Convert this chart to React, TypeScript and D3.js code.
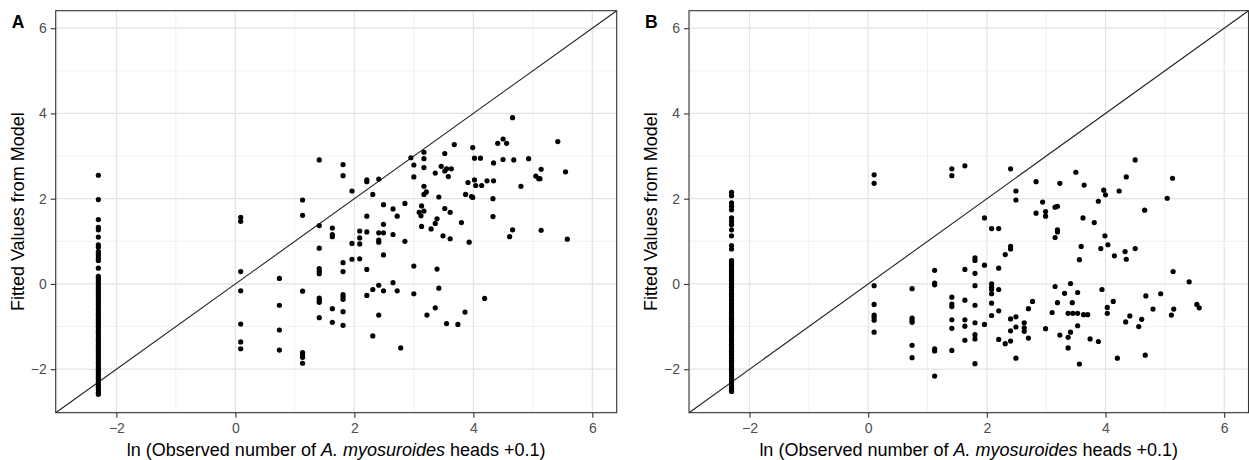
import { useEffect, useRef } from "react";
import * as d3 from "d3";

// shared axis setup (both panels use the same limits on x and y)
const axisLimits: [number, number] = [-3.02, 6.41];
const majorTicks = [-2, 0, 2, 4, 6];
const minorTicks = [-3, -1, 1, 3, 5];
const zeroCountX = -2.303; // ln(0 + 0.1)

// Panel A: fitted values for plots with no heads observed
const panelAZeroY = [
  2.55, 1.98, 1.51, 1.33, 1.27, 1.1, 0.92, 0.86, 0.76, 0.71, 0.66, 0.6, 0.55, 0.37,
  0.18, 0.14, 0.09, 0.04, -0.02, -0.07, -0.12, -0.17, -0.23, -0.28, -0.33, -0.39,
  -0.44, -0.49, -0.55, -0.6, -0.66, -0.71, -0.76, -0.82, -0.87, -0.92, -0.98, -1.03,
  -1.09, -1.14, -1.19, -1.25, -1.3, -1.35, -1.41, -1.46, -1.52, -1.57, -1.62, -1.68,
  -1.73, -1.78, -1.84, -1.89, -1.95, -2.0, -2.05, -2.11, -2.16, -2.21, -2.27, -2.32,
  -2.38, -2.43, -2.48, -2.54, -2.59,
];

const panelAPoints: [number, number][] = [
  [0.09, 1.56], [0.09, 1.47], [0.09, 0.29], [0.09, -0.16], [0.09, -0.94], [0.09, -1.36], [0.09, -1.52],
  [0.74, 0.13], [0.74, -0.5], [0.74, -1.08], [0.74, -1.55],
  [1.13, 1.97], [1.13, 1.61], [1.13, -0.17], [1.13, -1.61], [1.13, -1.66], [1.13, -1.72], [1.13, -1.86],
  [1.41, 2.91], [1.41, 1.37], [1.41, 0.84], [1.41, 0.36], [1.41, 0.3], [1.41, 0.24], [1.41, -0.33],
  [1.41, -0.38], [1.41, -0.43], [1.41, -0.79],
  [1.63, 1.31], [1.63, 1.16], [1.63, 1.11], [1.63, -0.58], [1.63, -0.9],
  [1.81, 2.8], [1.81, 2.54], [1.81, 0.5], [1.81, 0.29], [1.81, -0.25], [1.81, -0.3], [1.81, -0.36],
  [1.81, -0.65], [1.81, -0.97],
  [1.96, 2.18], [1.96, 0.95], [1.96, 0.58],
  [2.09, 1.24], [2.09, 1.08], [2.09, 0.94], [2.09, 0.59],
  [2.21, 2.44], [2.21, 2.4], [2.21, 1.59], [2.21, 1.22], [2.21, 0.34], [2.21, -0.27],
  [2.31, 2.1], [2.31, -0.13], [2.31, -1.22],
  [2.41, 2.46], [2.41, 1.2], [2.41, 1.03], [2.41, 0.98], [2.41, -0.03], [2.41, -0.73],
  [2.49, 1.86], [2.49, 1.4], [2.49, 1.2], [2.49, 0.68], [2.49, -0.16],
  [2.65, 1.76], [2.65, 1.16], [2.65, 0.03],
  [2.72, 1.59], [2.72, -0.16], [2.78, -1.5], [2.85, 1.89], [2.85, 1.0], [2.95, 2.96],
  [3.0, 2.79], [3.0, 2.51], [3.0, 0.42], [3.0, -0.23],
  [4.66, 3.9], [3.68, 3.27], [3.17, 3.09], [3.17, 2.94], [3.17, 2.73], [3.52, 3.06], [3.99, 3.2],
  [4.02, 2.95], [4.12, 2.95], [4.41, 3.3], [4.5, 3.4], [4.56, 3.3], [4.34, 2.84], [4.5, 2.92],
  [4.68, 2.91], [4.93, 2.94], [5.42, 3.34], [3.46, 2.76], [3.36, 2.6], [3.52, 2.65], [3.55, 2.7],
  [3.63, 2.7], [3.58, 2.52], [3.17, 2.29], [3.21, 2.16], [3.17, 2.1], [3.42, 2.04], [3.91, 2.38],
  [4.02, 2.44], [4.04, 2.31], [4.14, 2.31], [4.23, 2.42], [4.34, 2.42], [3.87, 2.1], [3.97, 2.05],
  [3.99, 2.03], [4.33, 2.0], [4.8, 2.29], [5.05, 2.53], [5.1, 2.47], [5.12, 2.47], [5.14, 2.69],
  [5.55, 2.63], [3.13, 1.83], [3.09, 1.68], [3.12, 1.6], [3.17, 1.71], [3.52, 1.77], [3.61, 1.68],
  [3.39, 1.53], [3.36, 1.42], [3.29, 1.29], [3.13, 1.35], [3.8, 1.44], [4.33, 1.58], [3.49, 1.13],
  [3.61, 1.06], [3.93, 0.98], [4.61, 1.11], [4.66, 1.27], [5.14, 1.26], [5.58, 1.05], [3.39, 0.35],
  [3.42, -0.1], [4.19, -0.34], [3.36, -0.56], [3.22, -0.73], [3.86, -0.66], [3.55, -0.93], [3.74, -0.95],
];

// Panel B
const panelBZeroY = [
  2.15, 2.07, 1.9, 1.82, 1.74, 1.55, 1.47, 1.39, 1.27, 1.13, 0.9, 0.82, 0.55, 0.5,
  0.45, 0.4, 0.34, 0.29, 0.24, 0.18, 0.13, 0.08, 0.02, -0.03, -0.08, -0.14, -0.19,
  -0.24, -0.3, -0.35, -0.4, -0.46, -0.51, -0.56, -0.62, -0.67, -0.72, -0.78, -0.83,
  -0.88, -0.94, -0.99, -1.04, -1.1, -1.15, -1.2, -1.26, -1.31, -1.36, -1.42, -1.47,
  -1.52, -1.58, -1.63, -1.68, -1.74, -1.79, -1.84, -1.9, -1.95, -2.0, -2.06, -2.11,
  -2.16, -2.22, -2.27, -2.32, -2.38, -2.43, -2.48, -2.52,
];

const panelBPoints: [number, number][] = [
  [0.1, 2.56], [0.1, 2.36], [0.1, -0.04], [0.1, -0.48], [0.1, -0.73], [0.1, -0.78], [0.1, -0.85], [0.1, -1.13],
  [0.74, -0.11], [0.74, -0.8], [0.74, -0.85], [0.74, -0.9], [0.74, -1.44], [0.74, -1.73],
  [1.12, 0.32], [1.12, 0.02], [1.12, -0.02], [1.12, -1.52], [1.12, -1.57], [1.12, -2.16],
  [1.41, 2.7], [1.41, 2.54], [1.41, -0.31], [1.41, -0.47], [1.41, -0.53], [1.41, -0.84], [1.41, -1.04], [1.41, -1.56],
  [1.63, 2.77], [1.63, 0.34], [1.63, -0.38], [1.63, -0.84], [1.63, -0.99], [1.63, -1.32],
  [1.8, 0.61], [1.8, 0.55], [1.8, 0.25], [1.8, -0.04], [1.8, -0.5], [1.8, -0.91], [1.8, -1.19], [1.8, -1.29], [1.8, -1.87],
  [1.96, 1.55], [1.96, 0.44], [1.96, -0.95],
  [2.08, 1.3], [2.08, 0.0], [2.08, -0.08], [2.08, -0.13], [2.08, -0.23], [2.08, -0.45], [2.08, -0.74],
  [2.2, 1.3], [2.2, 0.37], [2.2, -0.13], [2.2, -0.63], [2.2, -1.3],
  [2.31, 0.69], [2.31, -1.4],
  [2.4, 2.7], [2.4, 0.88], [2.4, 0.82], [2.4, -0.82], [2.4, -1.1], [2.4, -1.34],
  [2.49, 2.18], [2.49, 1.97], [2.49, -0.77], [2.49, -1.01], [2.49, -1.74],
  [2.63, -0.91], [2.63, -1.03], [2.63, -1.11], [2.7, -0.58], [2.7, -1.27], [2.77, -0.41],
  [2.83, 2.4], [2.83, 1.66], [2.94, 1.92], [2.99, 1.7], [2.99, 1.59], [2.99, -1.05],
  [4.5, 2.91], [3.5, 2.62], [3.23, 2.36], [3.64, 2.32], [4.35, 2.51], [5.13, 2.48], [3.97, 2.2],
  [4.0, 2.09], [4.23, 2.18], [3.88, 1.94], [5.04, 2.01], [4.66, 1.73], [3.15, 1.8], [3.19, 1.82],
  [3.62, 1.55], [3.81, 1.44], [3.19, 1.27], [3.19, 1.22], [3.15, 1.09], [3.99, 1.13], [3.59, 0.88],
  [3.92, 0.83], [4.04, 0.92], [3.56, 0.57], [4.15, 0.66], [4.33, 0.76], [4.35, 0.58], [4.5, 0.83],
  [5.14, 0.29], [5.41, 0.05], [3.15, -0.06], [3.41, 0.01], [3.31, -0.22], [3.53, -0.2], [3.94, -0.13],
  [3.19, -0.44], [3.44, -0.44], [3.1, -0.67], [3.37, -0.69], [3.45, -0.69], [3.53, -0.69], [3.63, -0.72],
  [3.7, -0.72], [4.13, -0.41], [4.03, -0.55], [4.03, -0.69], [4.68, -0.28], [4.93, -0.23], [4.8, -0.59],
  [5.54, -0.48], [5.58, -0.56], [5.15, -0.59], [5.11, -0.73], [4.41, -0.75], [4.34, -0.89], [4.61, -0.83],
  [4.56, -1.0], [3.53, -0.98], [3.23, -1.2], [3.41, -1.13], [3.37, -1.25], [3.37, -1.5], [3.74, -1.29],
  [3.88, -1.35], [3.56, -1.88], [4.2, -1.74], [4.67, -1.67],
];

const panels = [
  { label: "A", left: 55.7, right: 616.7, zeroY: panelAZeroY, points: panelAPoints },
  { label: "B", left: 689, right: 1248.5, zeroY: panelBZeroY, points: panelBPoints },
];

const fontFamily = "'Liberation Sans', Arial, Helvetica, sans-serif";
const fmt = (d: number) => (d < 0 ? `\u2212${Math.abs(d)}` : `${d}`);

export default function App() {
  const svgRef = useRef<SVGSVGElement>(null);

  useEffect(() => {
    if (!svgRef.current) return;
    const svg = d3.select(svgRef.current);
    svg.selectAll("*").remove();

    const top = 10.7;
    const bottom = 412.7;

    panels.forEach(p => {
      const x = d3.scaleLinear().domain(axisLimits).range([p.left, p.right]);
      const y = d3.scaleLinear().domain(axisLimits).range([bottom, top]);
      const g = svg.append("g");

      // background + grid
      g.append("rect")
        .attr("x", p.left).attr("y", top)
        .attr("width", p.right - p.left).attr("height", bottom - top)
        .attr("fill", "#fff");

      minorTicks.forEach(t => {
        g.append("line")
          .attr("x1", x(t)).attr("x2", x(t)).attr("y1", top).attr("y2", bottom)
          .attr("stroke", "#ebebeb").attr("stroke-width", 0.7);
        g.append("line")
          .attr("x1", p.left).attr("x2", p.right).attr("y1", y(t)).attr("y2", y(t))
          .attr("stroke", "#ebebeb").attr("stroke-width", 0.7);
      });
      majorTicks.forEach(t => {
        g.append("line")
          .attr("x1", x(t)).attr("x2", x(t)).attr("y1", top).attr("y2", bottom)
          .attr("stroke", "#e3e3e3").attr("stroke-width", 1.2);
        g.append("line")
          .attr("x1", p.left).attr("x2", p.right).attr("y1", y(t)).attr("y2", y(t))
          .attr("stroke", "#e3e3e3").attr("stroke-width", 1.2);
      });

      // 1:1 line
      g.append("line")
        .attr("x1", x(axisLimits[0])).attr("y1", y(axisLimits[0]))
        .attr("x2", x(axisLimits[1])).attr("y2", y(axisLimits[1]))
        .attr("stroke", "#222").attr("stroke-width", 1.1);

      // points
      const all: [number, number][] = [
        ...p.zeroY.map(v => [zeroCountX, v] as [number, number]),
        ...p.points,
      ];
      g.append("g")
        .selectAll("circle")
        .data(all)
        .join("circle")
        .attr("cx", d => x(d[0]))
        .attr("cy", d => y(d[1]))
        .attr("r", 2.6)
        .attr("fill", "#000");

      // panel border
      g.append("rect")
        .attr("x", p.left).attr("y", top)
        .attr("width", p.right - p.left).attr("height", bottom - top)
        .attr("fill", "none").attr("stroke", "#333").attr("stroke-width", 1.1);

      // axes
      const xAxis = g.append("g")
        .attr("transform", `translate(0,${bottom})`)
        .call(d3.axisBottom(x).tickValues(majorTicks).tickFormat(d => fmt(d as number)).tickSize(5).tickPadding(5));
      const yAxis = g.append("g")
        .attr("transform", `translate(${p.left},0)`)
        .call(d3.axisLeft(y).tickValues(majorTicks).tickFormat(d => fmt(d as number)).tickSize(5).tickPadding(4));
      [xAxis, yAxis].forEach(a => {
        a.select(".domain").remove();
        a.selectAll("line").attr("stroke", "#333").attr("stroke-width", 1.1);
        a.selectAll("text")
          .attr("fill", "#4d4d4d")
          .attr("font-size", "14px")
          .attr("font-family", fontFamily);
      });

      // axis titles
      const xt = g.append("text")
        .attr("x", (p.left + p.right) / 2)
        .attr("y", 456)
        .attr("text-anchor", "middle")
        .attr("font-family", fontFamily)
        .attr("font-size", "18px")
        .attr("fill", "#000");
      xt.append("tspan").text("ln (Observed number of ");
      xt.append("tspan").attr("font-style", "italic").text("A. myosuroides");
      xt.append("tspan").text(" heads +0.1)");

      g.append("text")
        .attr("transform", `translate(${p.left - 38},${(top + bottom) / 2}) rotate(-90)`)
        .attr("text-anchor", "middle")
        .attr("dominant-baseline", "central")
        .attr("font-family", fontFamily)
        .attr("font-size", "18px")
        .attr("fill", "#000")
        .text("Fitted Values from Model");

      // panel tag
      g.append("text")
        .attr("x", p.left - 44)
        .attr("y", 28.3)
        .attr("font-family", fontFamily)
        .attr("font-size", "17.5px")
        .attr("font-weight", "bold")
        .attr("fill", "#000")
        .text(p.label);
    });
  }, []);

  return (
    <svg
      ref={svgRef}
      width={1249}
      height={460}
      viewBox="0 0 1249 460"
      style={{ position: "absolute", left: 0, top: 0, background: "#fff" }}
    />
  );
}
